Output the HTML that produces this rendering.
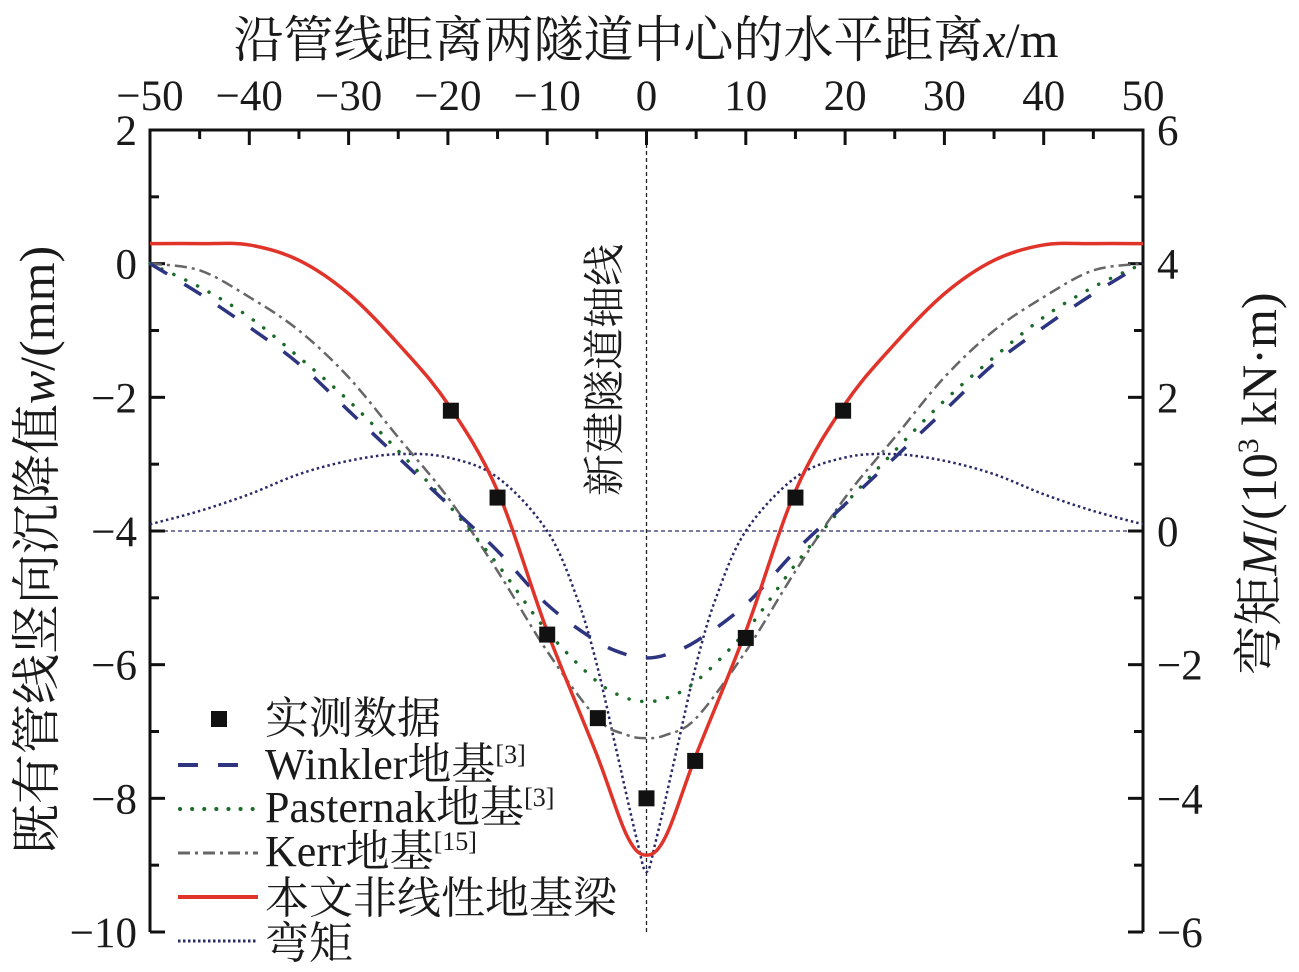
<!DOCTYPE html>
<html><head><meta charset="utf-8"><style>
body{margin:0;background:#fff}
svg{display:block}
text{font-family:"Liberation Serif","Noto Serif CJK SC",serif;fill:#1a1a1a}
</style></head><body>
<svg id="c" width="1299" height="972"></svg>
<script>
const xs=[-50,-45,-40,-35,-30,-25,-20,-15,-10,-5,-2,0];
const redVals=[0.3,0.3,0.28,0.05,-0.45,-1.2,-2.1,-3.4,-5.5,-7.35,-8.55,-8.85];
const winklerVals=[0,-0.45,-0.95,-1.5,-2.2,-2.9,-3.6,-4.3,-5.1,-5.65,-5.85,-5.9];
const pasternakVals=[0,-0.35,-0.8,-1.4,-2.05,-2.8,-3.6,-4.5,-5.5,-6.25,-6.5,-6.55];
const kerrVals=[0,-0.1,-0.5,-1.0,-1.7,-2.6,-3.5,-4.6,-5.8,-6.8,-7.05,-7.1];
const momentXs=[-50,-45,-40,-35,-30,-25,-20,-15,-10,-7,-5,-3,-1,0];
const momentVals=[0.1,0.3,0.55,0.85,1.05,1.15,1.1,0.8,0.0,-1.0,-2.0,-3.3,-4.6,-5.1];
const dataX=[-19.7,-15,-10,-4.9,0,4.9,10,15,19.8];
const dataY=[-2.2,-3.5,-5.55,-6.8,-8.0,-7.44,-5.6,-3.5,-2.2];
const xTicks=[-50,-40,-30,-20,-10,0,10,20,30,40,50];
const yTicks=[2,0,-2,-4,-6,-8,-10];
const y2Ticks=[6,4,2,0,-2,-4,-6];

const L=150,R=1143,T=130,B=932;
const X=v=>L+(v+50)/100*(R-L);
const Y=v=>T+(2-v)/12*(B-T);
const Y2=v=>T+(6-v)/12*(B-T);
const svg=document.getElementById('c');
const NS='http://www.w3.org/2000/svg';
function mk(tag,attrs,parent){const e=document.createElementNS(NS,tag);for(const k in attrs)e.setAttribute(k,attrs[k]);(parent||svg).appendChild(e);return e;}
function mirror(a,b){const px=[],py=[];for(let i=0;i<a.length;i++){px.push(a[i]);py.push(b[i]);}for(let i=a.length-2;i>=0;i--){px.push(-a[i]);py.push(b[i]);}return [px,py];}
function spline(px,py){let d=`M${px[0]},${py[0]}`;for(let i=0;i<px.length-1;i++){const p0=i>0?i-1:i,p3=i+2<px.length?i+2:i+1;const c1x=px[i]+(px[i+1]-px[p0])/6,c1y=py[i]+(py[i+1]-py[p0])/6;const c2x=px[i+1]-(px[p3]-px[i])/6,c2y=py[i+1]-(py[p3]-py[i])/6;d+=` C${c1x},${c1y} ${c2x},${c2y} ${px[i+1]},${py[i+1]}`;}return d;}
function curve(xv,yv,fy,style,name){const [a,b]=mirror(xv,yv);const p=mk('path',Object.assign({d:spline(a.map(X),b.map(fy)),fill:'none'},style));

}

let e=mk('line',{x1:L,x2:R,y1:Y2(0),y2:Y2(0),stroke:'#2a2a6a','stroke-width':1.3,'stroke-dasharray':'4,3'});

e=mk('line',{x1:X(0),x2:X(0),y1:T,y2:B,stroke:'#222','stroke-width':1.3,'stroke-dasharray':'4,3'});


e=mk('path',{d:`M${L},${B} L${L},${T} L${R},${T} L${R},${B}`,fill:'none',stroke:'#111','stroke-width':3});

mk('line',{x1:L,x2:L+12,y1:B,y2:B,stroke:'#111','stroke-width':3});
mk('line',{x1:R,x2:R-12,y1:B,y2:B,stroke:'#111','stroke-width':3});
for(let v=-50;v<=50;v+=5){const major=v%10===0;mk('line',{x1:X(v),x2:X(v),y1:T,y2:T+(major?15:9),stroke:'#111','stroke-width':3});}
for(let v=-10;v<=2;v+=1){const major=v%2===0;mk('line',{x1:L,x2:L+(major?15:9),y1:Y(v),y2:Y(v),stroke:'#111','stroke-width':3});mk('line',{x1:R,x2:R-(major?15:9),y1:Y(v),y2:Y(v),stroke:'#111','stroke-width':3});}
xTicks.forEach(v=>{const t=mk('text',{x:X(v),y:110,'font-size':43,'text-anchor':'middle'});t.textContent=(v<0?'−':'')+Math.abs(v);
});
yTicks.forEach(v=>{const t=mk('text',{x:137,y:Y(v)+15,'font-size':43,'text-anchor':'end'});t.textContent=(v<0?'−':'')+Math.abs(v);
});
y2Ticks.forEach(v=>{const t=mk('text',{x:1157,y:Y2(v)+15,'font-size':43,'text-anchor':'start'});t.textContent=(v<0?'−':'')+Math.abs(v);
});

let t=mk('text',{x:646,y:57,'font-size':50,'text-anchor':'middle'});t.innerHTML='沿管线距离两隧道中心的水平距离<tspan font-style="italic">x</tspan>/m';

t=mk('text',{x:0,y:0,'font-size':50,'text-anchor':'middle',transform:'translate(54,550) rotate(-90)'});t.innerHTML='既有管线竖向沉降值<tspan font-style="italic">w</tspan>/(mm)';

t=mk('text',{x:0,y:0,'font-size':50,'text-anchor':'middle',transform:'translate(1276,484) rotate(-90)'});t.innerHTML='弯矩<tspan font-style="italic">M</tspan>/(10<tspan font-size="30" dy="-18">3</tspan><tspan dy="18"> kN·m)</tspan>';

t=mk('text',{x:0,y:0,'font-size':42,'text-anchor':'middle',transform:'translate(619,370) rotate(-90)'});t.textContent='新建隧道轴线';


curve(momentXs,momentVals,Y2,{stroke:'#2a2a66','stroke-width':2.5,'stroke-dasharray':'2.5,3'},'moment-line');
curve(xs,kerrVals,Y,{stroke:'#666','stroke-width':2.5,'stroke-dasharray':'12,5,3,5'},'kerr-line');
curve(xs,pasternakVals,Y,{stroke:'#1d6b2a','stroke-width':3.5,'stroke-dasharray':'0.1,13','stroke-linecap':'round'},'pasternak-line');
curve(xs,winklerVals,Y,{stroke:'#2d3480','stroke-width':3.5,'stroke-dasharray':'20,20'},'winkler-line');
curve(xs,redVals,Y,{stroke:'#e0342a','stroke-width':3.5},'nonlinear-line');
dataX.forEach((v,i)=>{const r=mk('rect',{x:X(v)-8,y:Y(dataY[i])-8,width:16,height:16,fill:'#111'});
});

const lg=mk('g',{});
mk('rect',{x:211,y:711,width:16,height:16,fill:'#111'},lg);
mk('line',{x1:178,x2:258,y1:765,y2:765,stroke:'#2d3480','stroke-width':4,'stroke-dasharray':'20,20'},lg);
mk('line',{x1:180,x2:258,y1:809,y2:809,stroke:'#1d6b2a','stroke-width':4,'stroke-dasharray':'0.1,12','stroke-linecap':'round'},lg);
mk('line',{x1:178,x2:258,y1:853,y2:853,stroke:'#666','stroke-width':3,'stroke-dasharray':'12,5,3,5'},lg);
mk('line',{x1:178,x2:258,y1:897,y2:897,stroke:'#e0342a','stroke-width':4},lg);
mk('line',{x1:178,x2:258,y1:941,y2:941,stroke:'#2a2a66','stroke-width':3,'stroke-dasharray':'2.5,2.5'},lg);
const labels=['实测数据','Winkler地基<tspan font-size="26" dy="-16">[3]</tspan>','Pasternak地基<tspan font-size="26" dy="-16">[3]</tspan>','Kerr地基<tspan font-size="26" dy="-16">[15]</tspan>','本文非线性地基梁','弯矩'];
const ly=[733,779,822,866,913,958];
labels.forEach((s,i)=>{const tt=mk('text',{x:265,y:ly[i],'font-size':44},lg);tt.innerHTML=s;
});
</script>
</body></html>
